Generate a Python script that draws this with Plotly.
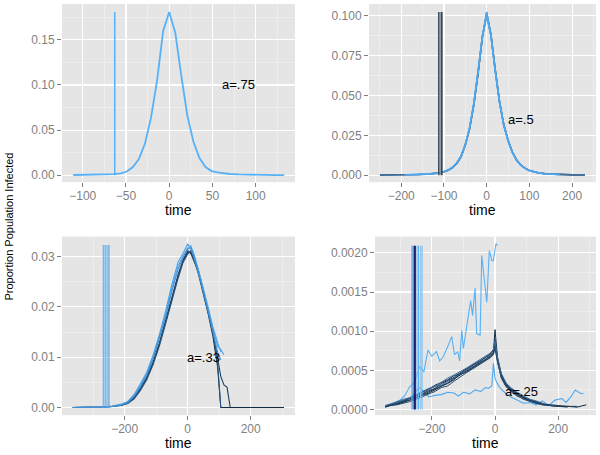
import plotly.graph_objects as go

# ---------------- data ----------------
# Panel a=.75
p1_time = [-111, -100, -90, -80, -70, -63, -56, -49, -42, -35, -28, -21, -14, -7, 0,
           7, 14, 21, 28, 35, 42, 49, 56, 63, 70, 80, 90, 100, 111, 122, 133]
p1_value = [0.0002, 0.0003, 0.0004, 0.0006, 0.0009, 0.0012, 0.002, 0.004, 0.009, 0.018,
            0.035, 0.064, 0.105, 0.160, 0.181, 0.158, 0.110, 0.066, 0.037, 0.019, 0.009,
            0.0045, 0.003, 0.002, 0.0013, 0.0008, 0.0005, 0.0003, 0.0002, 0.0001, 0.0001]
p1_starts = [-63]
p1_start_colors = ["#56B1F7"]
p1_top = 0.181

# Panel a=.5
p2_time = [-250, -220, -190, -160, -140, -120, -110, -100, -90, -80, -70, -60, -50, -40, -30,
           -20, -10, 0, 10, 20, 30, 40, 50, 60, 70, 80, 90, 100, 120, 140, 170, 200, 230]
p2_s1 = [0.0001, 0.0001, 0.0002, 0.0004, 0.0007, 0.0011, 0.0015, 0.0022, 0.0032, 0.0048, 0.0075,
         0.0118, 0.0192, 0.0295, 0.0448, 0.0645, 0.0870, 0.1005, 0.0880, 0.0660, 0.0460, 0.0315,
         0.0218, 0.0145, 0.0095, 0.0063, 0.0043, 0.0029, 0.0015, 0.0008, 0.0004, 0.0002, 0.0001]
p2_s2 = [0.0001, 0.0001, 0.0002, 0.0004, 0.0006, 0.0010, 0.0014, 0.0021, 0.0031, 0.0047, 0.0073,
         0.0115, 0.0188, 0.0290, 0.0442, 0.0640, 0.0868, 0.1020, 0.0885, 0.0665, 0.0465, 0.0318,
         0.0220, 0.0147, 0.0096, 0.0064, 0.0044, 0.0030, 0.0016, 0.0008, 0.0004, 0.0002, 0.0001]
p2_s3 = [0.0001, 0.0001, 0.0002, 0.0004, 0.0007, 0.0011, 0.0016, 0.0023, 0.0033, 0.0050, 0.0078,
         0.0121, 0.0196, 0.0300, 0.0455, 0.0652, 0.0875, 0.1000, 0.0872, 0.0652, 0.0455, 0.0310,
         0.0214, 0.0142, 0.0093, 0.0062, 0.0042, 0.0028, 0.0015, 0.0007, 0.0004, 0.0002, 0.0001]
p2_s4 = [0.0001, 0.0001, 0.0002, 0.0003, 0.0006, 0.0010, 0.0015, 0.0022, 0.0032, 0.0049, 0.0076,
         0.0119, 0.0190, 0.0293, 0.0450, 0.0648, 0.0872, 0.1025, 0.0878, 0.0658, 0.0462, 0.0316,
         0.0219, 0.0146, 0.0094, 0.0063, 0.0043, 0.0029, 0.0015, 0.0008, 0.0004, 0.0002, 0.0001]
p2_colors = ["#2f5070", "#3a6f9c", "#56B1F7", "#4ea6ee"]
p2_starts = [-112, -108.5, -105]
p2_start_colors = ["#333d47", "#8a9aaa", "#2e3a46"]
p2_top = 0.1025

# Panel a=.33
p3_time = [-365, -330, -300, -270, -240, -210, -190, -170, -150, -130, -110, -90, -70, -50, -30,
           -15, 0, 10, 20, 35, 50, 65, 80, 95, 105, 115, 125, 135, 200, 306]
p3_d1 = [0.0000, 0.0000, 0.0001, 0.0001, 0.0002, 0.0005, 0.0009, 0.0019, 0.0037, 0.0058, 0.0088,
         0.0126, 0.0170, 0.0219, 0.0262, 0.0290, 0.0308, 0.0309, 0.0296, 0.0263, 0.0226, 0.0186,
         0.0142, 0.0080, 0.0000, 0.0000, 0.0000, 0.0000, 0.0000, 0.0000]
p3_d2 = [0.0000, 0.0000, 0.0001, 0.0001, 0.0002, 0.0005, 0.0010, 0.0020, 0.0038, 0.0060, 0.0090,
         0.0128, 0.0173, 0.0222, 0.0265, 0.0293, 0.0312, 0.0306, 0.0292, 0.0268, 0.0232, 0.0192,
         0.0150, 0.0098, 0.0062, 0.0045, 0.0040, 0.0000]
p3_d3 = [0.0000, 0.0000, 0.0000, 0.0001, 0.0002, 0.0004, 0.0008, 0.0017, 0.0034, 0.0055, 0.0085,
         0.0122, 0.0167, 0.0215, 0.0258, 0.0288, 0.0305, 0.0312, 0.0300, 0.0270, 0.0235, 0.0195,
         0.0150, 0.0090, 0.0000]
p3_l1 = [0.0000, 0.0000, 0.0001, 0.0001, 0.0002, 0.0006, 0.0011, 0.0024, 0.0044, 0.0068, 0.0100,
         0.0140, 0.0186, 0.0238, 0.0283, 0.0300, 0.0318, 0.0322, 0.0305, 0.0272, 0.0238, 0.0200,
         0.0160, 0.0128, 0.0110]
p3_l2 = [0.0000, 0.0000, 0.0001, 0.0001, 0.0003, 0.0007, 0.0012, 0.0026, 0.0047, 0.0070, 0.0104,
         0.0145, 0.0192, 0.0245, 0.0290, 0.0306, 0.0325, 0.0316, 0.0298, 0.0266, 0.0232, 0.0194,
         0.0155, 0.0122, 0.0115, 0.0105]
p3_l3 = [0.0000, 0.0000, 0.0001, 0.0001, 0.0002, 0.0005, 0.0010, 0.0022, 0.0041, 0.0064, 0.0096,
         0.0136, 0.0180, 0.0232, 0.0276, 0.0298, 0.0315, 0.0318, 0.0302, 0.0268, 0.0230, 0.0190,
         0.0150, 0.0110, 0.0095]
p3_dark_colors = ["#132B43", "#1d3f60", "#2a5680"]
p3_light_colors = ["#56B1F7", "#4a9fe6", "#3f8fd2"]
p3_starts = [-268, -262, -256, -250]
p3_start_colors = ["#56B1F7", "#4ea7ef", "#5ab3f5", "#4a9ee0"]
p3_top = 0.0323

# Panel a=.25
p4_time = [-347, -330, -310, -290, -270, -250, -230, -210, -190, -170, -150, -130, -110, -90, -70,
           -50, -30, -15, -5, 0, 8, 20, 35, 50, 70, 90, 110, 130, 150, 175, 200, 230, 260, 289]
p4_d1 = [0.00004, 0.00005, 0.00007, 0.00009, 0.00012, 0.00014, 0.00017, 0.00021, 0.00025, 0.00029,
         0.00034, 0.00039, 0.00044, 0.00049, 0.00054, 0.00059, 0.00064, 0.00068, 0.00073, 0.00102,
         0.00066, 0.00043, 0.00031, 0.00025, 0.00019, 0.00015, 0.00011, 0.00009, 0.00007, 0.00005,
         0.00004, 0.00004, 0.00003, 0.00006]
p4_d2 = [0.00003, 0.00006, 0.00008, 0.00011, 0.00013, 0.00016, 0.00020, 0.00024, 0.00027, 0.00033,
         0.00037, 0.00041, 0.00047, 0.00052, 0.00056, 0.00062, 0.00066, 0.00070, 0.00075, 0.00085,
         0.00062, 0.00040, 0.00029, 0.00024, 0.00018, 0.00013, 0.00010, 0.00008, 0.00006, 0.00005,
         0.00004, 0.00003]
p4_d3 = [0.00005, 0.00006, 0.00008, 0.00010, 0.00014, 0.00018, 0.00021, 0.00026, 0.00031, 0.00034,
         0.00038, 0.00043, 0.00046, 0.00051, 0.00057, 0.00061, 0.00067, 0.00071, 0.00077, 0.00080,
         0.00064, 0.00045, 0.00033, 0.00027, 0.00021, 0.00016, 0.00012, 0.00009, 0.00008]
p4_d4 = [0.00003, 0.00005, 0.00006, 0.00008, 0.00010, 0.00013, 0.00016, 0.00019, 0.00023, 0.00028,
         0.00030, 0.00036, 0.00042, 0.00047, 0.00052, 0.00057, 0.00062, 0.00066, 0.00070, 0.00078,
         0.00060, 0.00041, 0.00030, 0.00023, 0.00017, 0.00014, 0.00010, 0.00008, 0.00006, 0.00005,
         0.00004]
p4_d5 = [0.00004, 0.00006, 0.00009, 0.00012, 0.00015, 0.00017, 0.00022, 0.00025, 0.00030, 0.00031,
         0.00036, 0.00040, 0.00046, 0.00050, 0.00055, 0.00060, 0.00064, 0.00069, 0.00072, 0.00082,
         0.00063, 0.00042, 0.00032, 0.00026, 0.00020, 0.00016, 0.00013, 0.00010, 0.00007, 0.00006]
p4_d6 = [0.00004, 0.00005, 0.00007, 0.00010, 0.00012, 0.00015, 0.00019, 0.00023, 0.00026, 0.00030,
         0.00033, 0.00038, 0.00045, 0.00048, 0.00053, 0.00058, 0.00063, 0.00067, 0.00071, 0.00090,
         0.00065, 0.00044, 0.00032, 0.00026, 0.00020, 0.00015, 0.00012, 0.00009, 0.00007, 0.00006,
         0.00005, 0.00004, 0.00004]
p4_d7 = [0.00005, 0.00007, 0.00010, 0.00013, 0.00015, 0.00019, 0.00023, 0.00027, 0.00029, 0.00035,
         0.00040, 0.00044, 0.00048, 0.00053, 0.00058, 0.00063, 0.00068, 0.00072, 0.00076, 0.00088,
         0.00067, 0.00046, 0.00034, 0.00028, 0.00022, 0.00017, 0.00013, 0.00011, 0.00008]
p4_dark_colors = ["#132B43", "#1a3652", "#214262", "#284e73", "#2f5a84", "#1e3b59", "#3a6c9c"]

p4_high_time = [-347, -320, -300, -285, -270, -255, -238, -225, -212, -200, -185, -175, -164,
                -150, -137, -128, -118, -112, -105, -100, -90, -77, -71, -63, -58, -47, -42,
                -33, -26, -18, -10, -5, 3, 8]
p4_high_value = [0.00003, 0.00008, 0.00012, 0.00018, 0.00029, 0.00035, 0.00055, 0.00048, 0.00076,
                 0.00068, 0.00074, 0.00062, 0.00067, 0.00080, 0.00093, 0.00070, 0.00074, 0.00062,
                 0.00101, 0.00078, 0.00103, 0.00139, 0.00120, 0.00155, 0.00097, 0.00095, 0.00197,
                 0.00165, 0.00137, 0.00203, 0.00190, 0.00190, 0.00212, 0.00209]
p4_low_time = [-300, -280, -260, -240, -222, -210, -190, -170, -150, -130, -116, -100, -80, -63,
               -45, -30, -21, -10, -5, 0, 5, 15, 30, 50, 70, 90, 110, 130, 150, 170, 190, 212,
               225, 240, 254, 268, 280]
p4_low_value = [0.00008, 0.00012, 0.00018, 0.00028, 0.00022, 0.00016, 0.00018, 0.00019, 0.00022,
                0.00021, 0.00017, 0.00022, 0.00020, 0.00025, 0.00023, 0.00028, 0.00027, 0.00030,
                0.00059, 0.00040, 0.00035, 0.00028, 0.00022, 0.00016, 0.00012, 0.00008, 0.00009,
                0.00006, 0.00011, 0.00005, 0.00012, 0.00014, 0.00009, 0.00016, 0.00025, 0.00021,
                0.00020]
p4_light_colors = ["#56B1F7", "#4da6ee"]
p4_starts = [-263, -259, -255, -252, -247, -242, -236, -231]
p4_start_colors = ["#56B1F7", "#3f86cf", "#14147a", "#1a2530", "#8fb3d6", "#56B1F7", "#9cc6ea", "#6fb4ee"]
p4_top = 0.00209

labels = ["a=.75", "a=.5", "a=.33", "a=.25"]
label_pos = [(80, 0.10), (80, 0.035), (50, 0.010), (85, 0.00023)]

# ---------------- figure ----------------
fig = go.Figure()
FONT = "Liberation Sans, Arial, Helvetica, sans-serif"


def add_line(ax, x, y, color, width):
    fig.add_trace(go.Scatter(x=x, y=y, mode="lines", line=dict(color=color, width=width),
                             xaxis="x" + ax, yaxis="y" + ax, showlegend=False, hoverinfo="skip"))


def add_starts(ax, starts, colors, top, width):
    for s, c in zip(starts, colors):
        add_line(ax, [s, s], [0, top], c, width)


# panel 1
add_line("", p1_time, p1_value, "#56B1F7", 1.8)
add_starts("", p1_starts, p1_start_colors, p1_top, 1.5)

# panel 2
add_line("2", p2_time, p2_s1, p2_colors[0], 1.6)
add_line("2", p2_time, p2_s2, p2_colors[1], 1.5)
add_line("2", p2_time[2:-2], p2_s3[2:-2], p2_colors[2], 1.5)
add_line("2", p2_time[2:-2], p2_s4[2:-2], p2_colors[3], 1.5)
add_starts("2", p2_starts, p2_start_colors, p2_top, 1.5)

# panel 3
for vals, c in zip([p3_d1, p3_d2, p3_d3], p3_dark_colors):
    add_line("3", p3_time[:len(vals)], vals, c, 1.1)
for vals, c in zip([p3_l1, p3_l2, p3_l3], p3_light_colors):
    add_line("3", p3_time[:len(vals)], vals, c, 1.1)
add_starts("3", p3_starts, p3_start_colors, p3_top, 1.1)

# panel 4
add_line("4", p4_high_time, p4_high_value, p4_light_colors[0], 1.1)
add_line("4", p4_low_time, p4_low_value, p4_light_colors[1], 1.1)
for vals, c in zip([p4_d1, p4_d2, p4_d3, p4_d4, p4_d5, p4_d6, p4_d7], p4_dark_colors):
    add_line("4", p4_time[:len(vals)], vals, c, 1.0)
add_starts("4", p4_starts, p4_start_colors, p4_top, 1.1)

W, H = 600, 455


def axis(domain, rng, dtick, minor_dtick, anchor, fmt=None, xa=False):
    d = dict(domain=domain, range=rng, anchor=anchor, dtick=dtick, tick0=0,
             showgrid=True, gridcolor="white", gridwidth=1.1, zeroline=False, showline=False,
             ticks="outside", ticklen=4, tickwidth=1, tickcolor="#7F7F7F",
             tickfont=dict(family=FONT, size=12, color="#7F7F7F"),
             minor=dict(dtick=minor_dtick, tick0=0, showgrid=True, gridcolor="#F2F2F2", gridwidth=0.6),
             fixedrange=True)
    if fmt:
        d["tickformat"] = fmt
    if xa:
        d["ticklabelstandoff"] = -2
    return d


xl = [62 / W, 295 / W]
xr2 = [369 / W, 596 / W]
xr4 = [375 / W, 596 / W]
yt = [1 - 183 / H, 1 - 4 / H]
yb = [1 - 417 / H, 1 - 237.7 / H]

fig.update_layout(
    width=W, height=H, margin=dict(l=0, r=0, t=0, b=0),
    paper_bgcolor="white", plot_bgcolor="#E5E5E5",
    xaxis=axis(xl, [-124, 145.5], 50, 25, "y", xa=True),
    yaxis=axis(yt, [-0.0078, 0.1898], 0.05, 0.025, "x", ".2f"),
    xaxis2=axis(xr2, [-275.6, 256], 100, 50, "y2", xa=True),
    yaxis2=axis(yt, [-0.0044, 0.1075], 0.025, 0.0125, "x2", ".3f"),
    xaxis3=axis(xl, [-399, 340.6], 200, 100, "y3", xa=True),
    yaxis3=axis(yb, [-0.00152, 0.03396], 0.01, 0.005, "x3", ".2f"),
    xaxis4=axis(xr4, [-379.7, 319.6], 200, 100, "y4", xa=True),
    yaxis4=axis(yb, [-0.0000725, 0.002207], 0.0005, 0.00025, "x4", ".4f"),
    showlegend=False,
)

ann = []
for i, (lab, (lx, ly)) in enumerate(zip(labels, label_pos)):
    suf = "" if i == 0 else str(i + 1)
    ann.append(dict(text=lab, x=lx, y=ly, xref="x" + suf, yref="y" + suf, showarrow=False,
                    font=dict(family=FONT, size=13, color="black")))
for cx, cy in [(178.5, 210.5), (482.5, 210.5), (178.5, 445.3), (485.5, 445.3)]:
    ann.append(dict(text="time", x=cx / W, y=1 - cy / H, xref="paper", yref="paper",
                    showarrow=False, font=dict(family=FONT, size=14, color="black"),
                    xanchor="center", yanchor="middle", borderpad=0))
ann.append(dict(text="Proportion Population Infected", x=8 / W, y=0.5, xref="paper", yref="paper",
                textangle=-90, showarrow=False, font=dict(family=FONT, size=11, color="black"),
                xanchor="center", yanchor="middle"))
fig.update_layout(annotations=ann)

fig.write_html("out.html", config={"displayModeBar": False, "staticPlot": True},
               post_script="document.body.style.margin='0';document.body.style.overflow='hidden';")
